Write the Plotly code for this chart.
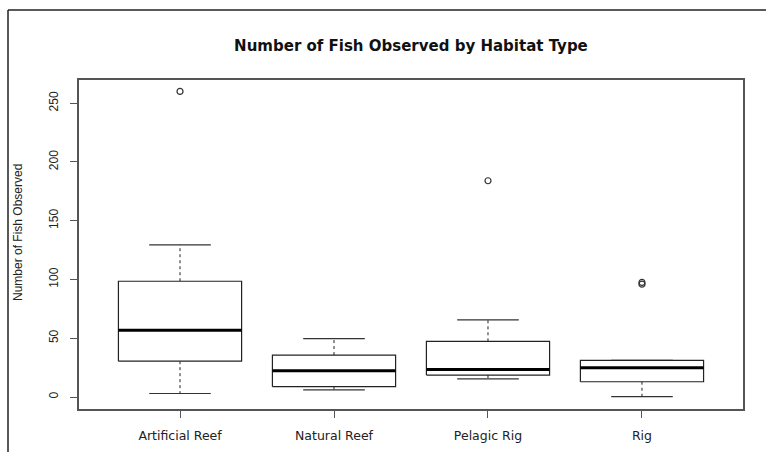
import plotly.graph_objects as go

categories = ["Artificial Reef", "Natural Reef", "Pelagic Rig", "Rig"]
lower_whisker = [3, 6, 15.5, 0.3]
q1 = [30.5, 8.8, 18.7, 13]
median = [56.7, 22.4, 23.5, 25]
q3 = [98.5, 35.7, 47.4, 31.2]
upper_whisker = [129.5, 49.6, 65.7, 31.2]
outliers = [[260], [], [184], [96, 97.5]]

title_text = "Number of Fish Observed by Habitat Type"
y_title = "Number of Fish Observed"
y_ticks = [0, 50, 100, 150, 200, 250]

BOXW = 0.4
STAPLE = 0.2
fig = go.Figure()

for i, cat in enumerate(categories):
    x = i + 1
    fig.add_trace(go.Scatter(x=[x, x, None, x, x], y=[q3[i], upper_whisker[i], None, q1[i], lower_whisker[i]],
                             mode="lines", line=dict(color="#222", width=1, dash="3px,3px"),
                             hoverinfo="skip", showlegend=False))
    fig.add_trace(go.Scatter(x=[x - STAPLE, x + STAPLE, None, x - STAPLE, x + STAPLE],
                             y=[upper_whisker[i], upper_whisker[i], None, lower_whisker[i], lower_whisker[i]],
                             mode="lines", line=dict(color="#333", width=1.2),
                             hoverinfo="skip", showlegend=False))
    fig.add_trace(go.Scatter(x=[x - BOXW, x + BOXW, x + BOXW, x - BOXW, x - BOXW],
                             y=[q1[i], q1[i], q3[i], q3[i], q1[i]],
                             mode="lines", fill="toself", fillcolor="white",
                             line=dict(color="#222", width=1.2),
                             name=cat, showlegend=False))
    fig.add_trace(go.Scatter(x=[x - BOXW, x + BOXW], y=[median[i], median[i]],
                             mode="lines", line=dict(color="black", width=3),
                             hoverinfo="skip", showlegend=False))
    if outliers[i]:
        fig.add_trace(go.Scatter(x=[x] * len(outliers[i]), y=outliers[i], mode="markers",
                                 marker=dict(symbol="circle-open", size=6, color="#333", line=dict(width=1.2)),
                                 showlegend=False))

font = "Liberation Sans, Arial, sans-serif"
wide = "DejaVu Sans, sans-serif"
fig.update_layout(
    width=766, height=452,
    paper_bgcolor="white", plot_bgcolor="white",
    margin=dict(l=79, r=23, t=80, b=43),
    title=dict(text="<b>" + title_text + "</b>", x=0.5365, xanchor="center", y=1 - 46 / 452, yanchor="middle",
               font=dict(family=wide, size=15, color="#111")),
    font=dict(family=font, size=12, color="#222"),
    xaxis=dict(range=[0.344, 4.656], tickvals=[1, 2, 3, 4], ticktext=categories, automargin=False,
               showgrid=False, zeroline=False, showline=True, mirror=True, linecolor="#555", linewidth=1.5,
               ticks="outside", ticklen=7, tickcolor="#555", ticklabelstandoff=7,
               tickfont=dict(family=wide, size=12.5, color="#222")),
    yaxis=dict(range=[-10.2, 269.7], tickvals=y_ticks, tickangle=-90, automargin=False,
               showgrid=False, zeroline=False, showline=True, mirror=True, linecolor="#555", linewidth=1.5,
               ticks="outside", ticklen=7, tickcolor="#555", ticklabelstandoff=7,
               tickfont=dict(size=12, color="#222")),
    annotations=[
        dict(text=y_title, textangle=-90, xref="paper", yref="paper",
             x=(18 - 79) / 664, y=(409 - 233) / 329, xanchor="center", yanchor="middle",
             showarrow=False, font=dict(family=font, size=12, color="#222")),
    ],
    shapes=[
        dict(type="line", xref="paper", yref="paper", x0=(8 - 79) / 664, x1=1.2, y0=(409 - 10) / 329, y1=(409 - 10) / 329,
             line=dict(color="#222", width=1.5)),
        dict(type="line", xref="paper", yref="paper", x0=(8 - 79) / 664, x1=(8 - 79) / 664, y0=(409 - 10) / 329, y1=-0.2,
             line=dict(color="#222", width=1.5)),
    ],
)

fig.write_html("out.html", config={"displayModeBar": False},
               post_script="document.body.style.margin='0px';document.body.style.overflow='hidden';")
